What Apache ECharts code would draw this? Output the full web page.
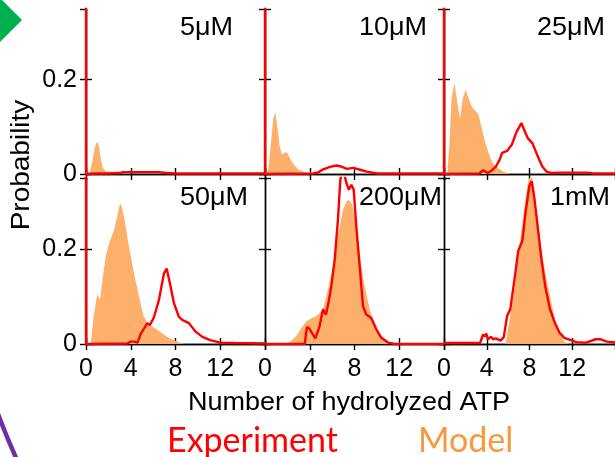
<!DOCTYPE html>
<html>
<head>
<meta charset="utf-8">
<script src="https://cdn.jsdelivr.net/npm/echarts@6/dist/echarts.min.js"></script>
<style>
  html, body { margin: 0; padding: 0; background: #fff; }
  #chart { width: 615px; height: 457px; }
</style>
</head>
<body>
<div id="chart"></div>
<script>
// panel titles, in reading order (top row, then bottom row)
const panelNames = ['5μM', '10μM', '25μM', '50μM', '200μM', '1mM']

// x ticks (number of hydrolyzed ATP) and y ticks (probability)
const xTicks = [0, 4, 8, 12, 16]
const yTicks = [0, 0.2]

// experiment curves, [ATP, probability]; the spike at 0 runs off the top
const exp5uM = [[0, 0.9], [0, 0], [1, 0.001], [2, 0.001], [3, 0.002], [3.3, 0.004], [5, 0.004], [6.5, 0.004], [7.2, 0.002], [8, 0.001], [16, 0.001]]
const exp10uM = [[0, 0.9], [0, 0], [4.3, 0.001], [4.8, 0.004], [5.2, 0.01], [5.8, 0.015], [6.4, 0.018], [6.8, 0.016], [7.3, 0.011], [7.9, 0.013], [8.5, 0.009], [9.1, 0.005], [10, 0.001], [16, 0.001]]
const exp25uM = [[0, 0.9], [0, 0], [3.3, 0.001], [3.66, 0.008], [4.1, 0.002], [4.5, 0.008], [4.86, 0.016], [5.2, 0.03], [5.45, 0.045], [5.9, 0.049], [6.34, 0.062], [6.8, 0.09], [7.24, 0.108], [7.5, 0.094], [7.84, 0.076], [8.28, 0.065], [8.73, 0.04], [9.2, 0.016], [9.6, 0.005], [10.1, 0.002], [11, 0.003], [13.3, 0.003], [14, 0.001], [16, 0.001]]
const exp50uM = [[0, 0.9], [0, 0], [3.7, 0.001], [4.0, 0.005], [4.3, 0.005], [4.6, 0.003], [4.9, 0.022], [5.2, 0.033], [5.48, 0.044], [5.72, 0.04], [6.08, 0.057], [6.52, 0.093], [6.97, 0.149], [7.21, 0.159], [7.5, 0.128], [7.86, 0.086], [8.31, 0.057], [8.6, 0.051], [9.2, 0.044], [9.8, 0.026], [10.4, 0.015], [11.1, 0.008], [12, 0.003], [13.2, 0.002], [16, 0.001]]
const exp200uM = [[0, 0], [3.55, 0], [3.75, 0.036], [3.95, 0.033], [4.15, 0.025], [4.5, 0.012], [4.85, 0.035], [5.18, 0.073], [5.45, 0.062], [5.7, 0.09], [5.93, 0.122], [6.23, 0.178], [6.52, 0.262], [6.73, 0.346], [6.97, 0.37], [7.27, 0.34], [7.5, 0.325], [7.72, 0.336], [7.93, 0.325], [8.16, 0.248], [8.46, 0.164], [8.76, 0.08], [9.05, 0.062], [9.5, 0.055], [9.95, 0.031], [10.4, 0.013], [11, 0.003], [11.6, 0], [16, 0]]
const exp1mM = [[0, 0.002], [3.37, 0.002], [3.66, 0.02], [3.85, 0.016], [3.96, 0.022], [4.11, 0.01], [4.4, 0.015], [4.6, 0.01], [4.86, 0.012], [5.3, 0.007], [5.6, 0.015], [5.9, 0.059], [6.2, 0.073], [6.64, 0.143], [6.94, 0.196], [7.33, 0.217], [7.63, 0.277], [7.98, 0.333], [8.2, 0.343], [8.43, 0.312], [8.73, 0.255], [9.12, 0.178], [9.47, 0.122], [9.92, 0.073], [10.37, 0.045], [10.8, 0.024], [11.26, 0.013], [11.86, 0.008], [12.4, 0.004], [13.3, 0.003], [14.2, 0.01], [14.66, 0.01], [15.25, 0.005], [16, 0.003]]

// model curves, [ATP, probability]
const model5uM = [[0, 0], [0.35, 0.004], [0.6, 0.03], [0.8, 0.058], [1.0, 0.069], [1.15, 0.06], [1.3, 0.035], [1.5, 0.013], [1.8, 0.006], [2.2, 0.005], [2.6, 0.003], [3, 0]]
const model10uM = [[0, 0], [0.3, 0.01], [0.55, 0.07], [0.75, 0.12], [0.92, 0.13], [1.1, 0.1], [1.3, 0.06], [1.5, 0.042], [1.75, 0.045], [1.95, 0.046], [2.2, 0.035], [2.5, 0.022], [3, 0.009], [3.5, 0.004], [4, 0.001], [4.3, 0]]
const model25uM = [[0, 0], [0.3, 0], [0.5, 0.06], [0.7, 0.16], [0.98, 0.193], [1.25, 0.15], [1.5, 0.117], [1.75, 0.16], [2.03, 0.179], [2.3, 0.16], [2.6, 0.142], [3.0, 0.132], [3.2, 0.128], [3.5, 0.1], [3.8, 0.072], [4.1, 0.05], [4.4, 0.03], [4.7, 0.019], [5.3, 0.008], [5.6, 0.005], [6.3, 0]]
const model50uM = [[0, 0], [0.42, 0], [0.65, 0.05], [0.87, 0.086], [1.0, 0.105], [1.1, 0.1], [1.25, 0.093], [1.5, 0.14], [1.76, 0.184], [2.06, 0.212], [2.5, 0.24], [2.8, 0.27], [3.04, 0.297], [3.2, 0.29], [3.4, 0.268], [3.84, 0.205], [4.29, 0.149], [4.74, 0.1], [5.12, 0.061], [5.48, 0.044], [6.37, 0.03], [7.27, 0.015], [8.16, 0.005], [8.76, 0]]
const model200uM = [[0, 0], [1.9, 0], [2.3, 0.006], [2.8, 0.017], [3.2, 0.032], [3.7, 0.048], [4.2, 0.055], [4.59, 0.059], [5.18, 0.073], [5.63, 0.115], [6.08, 0.164], [6.52, 0.227], [6.97, 0.283], [7.27, 0.3], [7.5, 0.304], [7.8, 0.294], [8.16, 0.248], [8.6, 0.164], [8.91, 0.122], [9.36, 0.073], [9.8, 0.038], [10.25, 0.017], [10.84, 0.005], [11.5, 0]]
const model1mM = [[0, 0], [5.75, 0], [6.2, 0.059], [6.64, 0.122], [7.09, 0.213], [7.53, 0.29], [7.85, 0.34], [8.1, 0.36], [8.35, 0.34], [8.58, 0.297], [9.03, 0.213], [9.47, 0.15], [9.92, 0.101], [10.37, 0.052], [10.8, 0.024], [11.26, 0.005], [11.7, 0]]

const experimentData = [exp5uM, exp10uM, exp25uM, exp50uM, exp200uM, exp1mM]
const modelData = [model5uM, model10uM, model25uM, model50uM, model200uM, model1mM]

const RED = '#ff0000'
const FILL = '#fcb06b'
const ORANGE = '#f8993f'
const FONT = 'Liberation Sans, Arial, sans-serif'

// panel layout (pixels)
const colLeft = [86, 265, 444]
const rowTop = [9, 178]
const rowHeight = [165, 166]
const panelWidth = 179
// right edge of each panel title
const labelRight = [233, 427, 605, 248, 442, 610]

const line = { show: true, lineStyle: { color: '#000', width: 1.4 } }
const tick = { show: true, inside: true, length: 6, lineStyle: { color: '#000', width: 1.4 } }

const grids = []
const xAxes = []
const yAxes = []
const series = []
const graphics = []

panelNames.forEach((name, i) => {
  const row = Math.floor(i / 3)
  const col = i % 3
  grids.push({ left: colLeft[col], top: rowTop[row], width: panelWidth, height: rowHeight[row] })

  const xBase = { gridIndex: i, type: 'value', min: xTicks[0], max: xTicks[xTicks.length - 1], interval: 4, axisLine: line, axisTick: tick, splitLine: { show: false } }
  xAxes.push({
    ...xBase,
    position: 'bottom',
    axisLabel: { show: row === 1, showMaxLabel: false, color: '#000', fontSize: 25, fontFamily: FONT, margin: 13 },
  })
  xAxes.push({ ...xBase, position: 'top', axisLabel: { show: false } })

  const yBase = { gridIndex: i, type: 'value', min: yTicks[0], max: 0.35, interval: yTicks[1], axisLine: line, axisTick: tick, splitLine: { show: false } }
  yAxes.push({
    ...yBase,
    position: 'left',
    axisLabel: { show: col === 0, showMaxLabel: false, color: '#000', fontSize: 25, fontFamily: FONT, margin: 9 },
  })
  yAxes.push({ ...yBase, position: 'right', axisLabel: { show: false } })

  series.push({
    name: 'Model',
    type: 'line',
    xAxisIndex: i * 2,
    yAxisIndex: i * 2,
    data: modelData[i],
    symbol: 'none',
    lineStyle: { width: 0 },
    areaStyle: { color: FILL, opacity: 1 },
    itemStyle: { color: ORANGE },
    z: 2,
  })
  series.push({
    name: 'Experiment',
    type: 'line',
    xAxisIndex: i * 2,
    yAxisIndex: i * 2,
    data: experimentData[i],
    symbol: 'none',
    lineStyle: { color: RED, width: 2.4 },
    itemStyle: { color: RED },
    z: 3,
  })

  graphics.push({
    type: 'text',
    x: labelRight[i],
    y: row === 0 ? 28 : 198,
    scaleX: 1.08,
    z: 10,
    style: { text: name, fill: '#000', font: `25px ${FONT}`, textAlign: 'right', textVerticalAlign: 'middle' },
  })
})

// axis titles
graphics.push({
  type: 'text',
  x: 349,
  y: 403,
  scaleX: 1.08,
  style: { text: 'Number of hydrolyzed ATP', fill: '#000', font: `25px ${FONT}`, textAlign: 'center', textVerticalAlign: 'middle' },
})
graphics.push({
  type: 'text',
  x: 22,
  y: 165,
  rotation: Math.PI / 2,
  scaleX: 1.12,
  style: { text: 'Probability', fill: '#000', font: `25px ${FONT}`, textAlign: 'center', textVerticalAlign: 'middle' },
})

// slide decorations
graphics.push({
  type: 'polygon',
  shape: { points: [[0, -2], [22, 20], [0, 42]] },
  style: { fill: '#00b050' },
})
graphics.push({
  type: 'bezierCurve',
  shape: { x1: -2, y1: 414, cpx1: 7, cpy1: 438, x2: 17, y2: 460 },
  style: { fill: null, stroke: '#7030a0', lineWidth: 4.5 },
})

const chart = echarts.init(document.getElementById('chart'), null, { renderer: 'canvas' })
chart.setOption({
  animation: false,
  backgroundColor: '#fff',
  grid: grids,
  xAxis: xAxes,
  yAxis: yAxes,
  series: series,
  legend: {
    left: 162,
    top: 424,
    padding: 0,
    icon: 'rect',
    itemWidth: 0,
    itemHeight: 0,
    itemGap: 75,
    selectedMode: false,
    textStyle: { fontSize: 34, fontFamily: 'Lato, sans-serif' },
    data: [
      { name: 'Experiment', textStyle: { color: RED } },
      { name: 'Model', textStyle: { color: ORANGE } },
    ],
  },
  graphic: graphics,
})
</script>
</body>
</html>
